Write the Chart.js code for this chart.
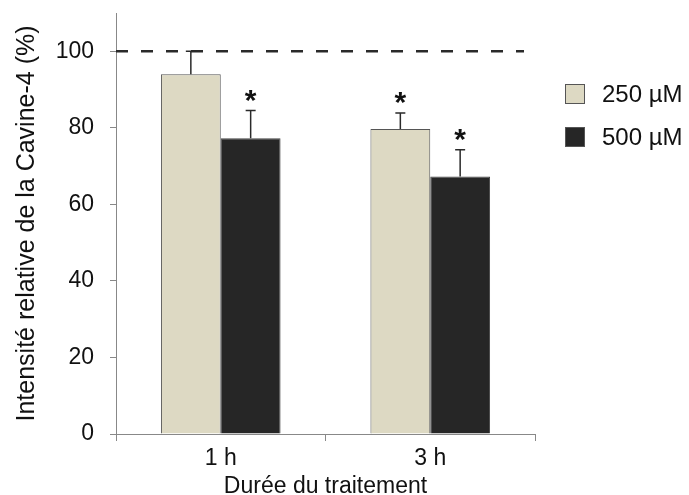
<!DOCTYPE html>
<html>
<head>
<meta charset="utf-8">
<script src="https://cdn.jsdelivr.net/npm/chart.js@4/dist/chart.umd.min.js"></script>
<style>
  html, body { margin: 0; padding: 0; background: #fff; }
  #wrap { width: 689px; height: 495px; }
</style>
</head>
<body>
<div id="wrap"><canvas id="c" width="689" height="495"></canvas></div>
<script>
const categories = ['1 h', '3 h'];
const seriesLabels = ['250 µM', '500 µM'];
const values250 = [94, 79.7];
const values500 = [77.3, 67.3];
const errors250 = [6, 4.2];
const errors500 = [7.2, 7];
const signif250 = [false, true];
const signif500 = [true, true];
const yTickValues = [0, 20, 40, 60, 80, 100];
const referenceLevel = 100;
const xTitle = 'Durée du traitement';
const yTitle = 'Intensité relative de la Cavine-4 (%)';

const FONT = "'Liberation Sans', Arial, sans-serif";
const colors = ['#ddd9c3', '#262626'];

const extrasPlugin = {
  id: 'extras',
  beforeDatasetsDraw(chart) {
    const ctx = chart.ctx;
    const y = chart.scales.y.getPixelForValue(referenceLevel);
    const area = chart.chartArea;
    ctx.save();
    ctx.strokeStyle = '#2a2a2a';
    ctx.lineWidth = 2.5;
    ctx.setLineDash([12, 13]);
    ctx.beginPath();
    ctx.moveTo(area.left, y);
    ctx.lineTo(area.right - 11, y);
    ctx.stroke();
    ctx.restore();
  },
  afterDatasetsDraw(chart) {
    const ctx = chart.ctx;
    const ys = chart.scales.y;
    chart.data.datasets.forEach((ds, di) => {
      const meta = chart.getDatasetMeta(di);
      meta.data.forEach((bar, i) => {
        const v = ds.data[i];
        const top = ys.getPixelForValue(v + ds.errors[i]);
        ctx.save();
        ctx.strokeStyle = '#2a2a2a';
        ctx.lineWidth = 1.5;
        ctx.beginPath();
        ctx.moveTo(bar.x, bar.y);
        ctx.lineTo(bar.x, top);
        ctx.moveTo(bar.x - 5, top);
        ctx.lineTo(bar.x + 5, top);
        ctx.stroke();
        if (ds.signif[i]) {
          ctx.fillStyle = '#111';
          ctx.font = 'bold 30px ' + FONT;
          ctx.textAlign = 'center';
          ctx.textBaseline = 'alphabetic';
          ctx.fillText('*', bar.x, top - 1);
        }
        ctx.restore();
      });
    });
  },
  afterDraw(chart) {
    const ctx = chart.ctx;
    const area = chart.chartArea;
    const lx = area.right + 30;
    const ly0 = 84;
    ctx.save();
    chart.data.datasets.forEach((ds, di) => {
      const y = ly0 + di * 43;
      ctx.fillStyle = ds.backgroundColor;
      ctx.strokeStyle = '#555';
      ctx.lineWidth = 1;
      ctx.fillRect(lx, y, 20, 20);
      ctx.strokeRect(lx + 0.5, y + 0.5, 19, 19);
      ctx.fillStyle = '#111';
      ctx.font = '24px ' + FONT;
      ctx.textAlign = 'left';
      ctx.textBaseline = 'middle';
      ctx.fillText(ds.label, lx + 37, y + 11);
    });
    ctx.restore();
  }
};

new Chart(document.getElementById('c'), {
  type: 'bar',
  data: {
    labels: categories,
    datasets: [
      { label: seriesLabels[0], data: values250, errors: errors250, signif: signif250,
        backgroundColor: colors[0], borderColor: '#555', borderWidth: 1 },
      { label: seriesLabels[1], data: values500, errors: errors500, signif: signif500,
        backgroundColor: colors[1], borderColor: '#444', borderWidth: 1 }
    ]
  },
  options: {
    responsive: false,
    animation: false,
    devicePixelRatio: 1,
    layout: { padding: { left: 0, right: 154, top: 13, bottom: 0 } },
    datasets: { bar: { categoryPercentage: 0.571, barPercentage: 1 } },
    plugins: { legend: { display: false }, tooltip: { enabled: false } },
    scales: {
      x: {
        afterFit(s) { s.height = 61; s.paddingLeft = 0; s.paddingRight = 0; },
        grid: { offset: true, drawOnChartArea: false, drawTicks: true, tickLength: 7, color: '#888', lineWidth: 1 },
        border: { color: '#888', width: 1 },
        ticks: { color: '#111', font: { family: FONT, size: 23 }, padding: 4 },
        title: { display: true, text: xTitle, color: '#111', font: { family: FONT, size: 23, lineHeight: 0.7 }, padding: { top: 0, bottom: 0 } }
      },
      y: {
        min: 0, max: 110,
        afterFit(s) { s.width = 116; s.paddingTop = 0; s.paddingBottom = 0; },
        afterBuildTicks(s) { s.ticks = yTickValues.map(v => ({ value: v })); },
        grid: { drawOnChartArea: false, drawTicks: true, tickLength: 6, color: '#888', lineWidth: 1 },
        border: { color: '#888', width: 1 },
        ticks: { color: '#111', font: { family: FONT, size: 23 }, padding: 16 },
        title: { display: true, text: yTitle, color: '#111', font: { family: FONT, size: 25, lineHeight: 1 }, padding: { top: 15, bottom: 0 } }
      }
    }
  },
  plugins: [extrasPlugin]
});
</script>
</body>
</html>
